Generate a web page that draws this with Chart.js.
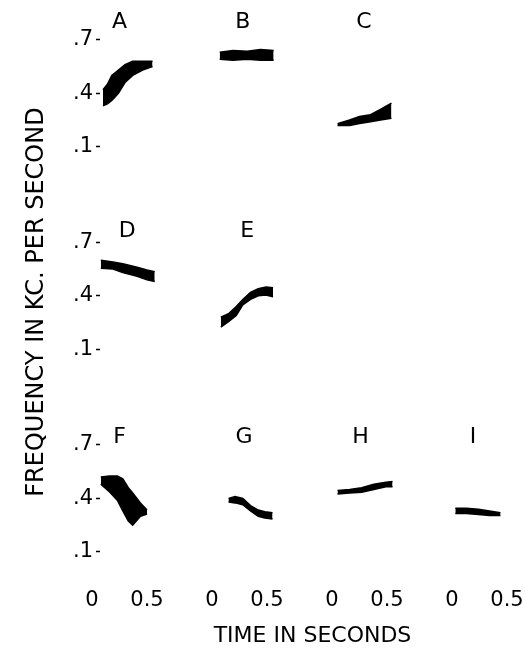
<!DOCTYPE html>
<html>
<head>
<meta charset="utf-8">
<script src="https://cdn.jsdelivr.net/npm/chart.js@4.4.0/dist/chart.umd.min.js"></script>
<style>
  html, body { margin: 0; padding: 0; background: #fff; }
  #wrap { width: 525px; height: 669px; position: relative; }
</style>
</head>
<body>
<div id="wrap"><canvas id="chart"></canvas></div>
<script>
// Panels: letter, row (0 = top) and column (0 = left) of each sound
const panelLetters = ['A', 'B', 'C', 'D', 'E', 'F', 'G', 'H', 'I'];
const panelRow = [0, 0, 0, 1, 1, 2, 2, 2, 2];
const panelCol = [0, 1, 2, 0, 1, 0, 1, 2, 3];
// where each letter sits, in seconds / kc of its own panel
const letterTime = [0.25, 0.28, 0.29, 0.32, 0.32, 0.25, 0.29, 0.26, 0.19];
const letterFreq = [0.80, 0.80, 0.80, 0.76, 0.76, 0.745, 0.745, 0.745, 0.745];

// Tick labels
const xTickValues = [0, 0.5];
const xTickLabels = ['0', '0.5'];
const yTickValues = [0.1, 0.4, 0.7];
const yTickLabels = ['.1', '.4', '.7'];

// Each trace: time (s), upper and lower edge of the band (kc)
const timeA = [0.10, 0.14, 0.18, 0.24, 0.30, 0.37, 0.46, 0.55];
const highA = [0.42, 0.45, 0.50, 0.53, 0.56, 0.58, 0.58, 0.58];
const lowA  = [0.33, 0.34, 0.36, 0.40, 0.46, 0.50, 0.53, 0.55];

const timeB = [0.07, 0.19, 0.32, 0.44, 0.56];
const highB = [0.63, 0.64, 0.635, 0.645, 0.64];
const lowB  = [0.59, 0.585, 0.59, 0.585, 0.585];

const timeC = [0.05, 0.16, 0.25, 0.35, 0.44, 0.54];
const highC = [0.23, 0.25, 0.27, 0.28, 0.31, 0.345];
const lowC  = [0.22, 0.22, 0.23, 0.24, 0.25, 0.26];

const timeD = [0.08, 0.19, 0.28, 0.41, 0.50, 0.57];
const highD = [0.60, 0.59, 0.58, 0.56, 0.545, 0.535];
const lowD  = [0.555, 0.55, 0.53, 0.51, 0.49, 0.48];

const timeE = [0.08, 0.15, 0.22, 0.28, 0.35, 0.42, 0.49, 0.555];
const highE = [0.28, 0.30, 0.34, 0.38, 0.42, 0.44, 0.45, 0.445];
const lowE  = [0.225, 0.255, 0.29, 0.35, 0.38, 0.40, 0.405, 0.395];

const timeF = [0.08, 0.16, 0.23, 0.28, 0.33, 0.37, 0.44, 0.50];
const highF = [0.52, 0.526, 0.526, 0.51, 0.46, 0.43, 0.375, 0.335];
const lowF  = [0.48, 0.436, 0.39, 0.33, 0.274, 0.25, 0.30, 0.313];

const timeG = [0.15, 0.21, 0.28, 0.35, 0.42, 0.48, 0.55];
const highG = [0.40, 0.41, 0.40, 0.36, 0.335, 0.325, 0.32];
const lowG  = [0.38, 0.375, 0.365, 0.33, 0.30, 0.29, 0.285];

const timeH = [0.05, 0.16, 0.27, 0.38, 0.49, 0.55];
const highH = [0.445, 0.45, 0.46, 0.48, 0.49, 0.495];
const lowH  = [0.425, 0.43, 0.435, 0.45, 0.465, 0.465];

const timeI = [0.03, 0.13, 0.24, 0.34, 0.44];
const highI = [0.345, 0.345, 0.34, 0.33, 0.32];
const lowI  = [0.315, 0.315, 0.31, 0.305, 0.305];

const panelTimes = [timeA, timeB, timeC, timeD, timeE, timeF, timeG, timeH, timeI];
const panelHigh = [highA, highB, highC, highD, highE, highF, highG, highH, highI];
const panelLow = [lowA, lowB, lowC, lowD, lowE, lowF, lowG, lowH, lowI];

// Panels share one x and one y scale, shifted by these steps
const COL_STEP = 1.0909;
const ROW_STEP = 1.135;
const X_MIN = 0.0727, X_MAX = 3.936;
const Y_MIN = -0.029, Y_MAX = 3.030;

const FONT = 'DejaVu Sans';
const INK = '#000';

const colShift = i => panelCol[i] * COL_STEP;
const rowShift = i => (2 - panelRow[i]) * ROW_STEP;

const datasets = [];
panelLetters.forEach((letter, i) => {
  const low = panelTimes[i].map((t, j) => ({ x: t + colShift(i), y: panelLow[i][j] + rowShift(i) }));
  const high = panelTimes[i].map((t, j) => ({ x: t + colShift(i), y: panelHigh[i][j] + rowShift(i) }));
  datasets.push({ label: letter + ' low', data: low, borderColor: INK, borderWidth: 1.5, pointRadius: 0, fill: false });
  datasets.push({ label: letter, data: high, borderColor: INK, backgroundColor: INK, borderWidth: 1.5, pointRadius: 0, fill: '-1' });
});

// Draws the panel letters at their spot on the scales
const letterPlugin = {
  id: 'panelLetters',
  afterDatasetsDraw(chart) {
    const { ctx, scales: { x, y } } = chart;
    ctx.save();
    ctx.font = '22px "' + FONT + '"';
    ctx.fillStyle = INK;
    ctx.textAlign = 'center';
    ctx.textBaseline = 'middle';
    panelLetters.forEach((letter, i) => {
      ctx.fillText(letter,
        x.getPixelForValue(letterTime[i] + colShift(i)),
        y.getPixelForValue(letterFreq[i] + rowShift(i)));
    });
    ctx.restore();
  }
};

const chart = new Chart(document.getElementById('chart'), {
  type: 'line',
  data: { datasets: datasets },
  plugins: [letterPlugin],
  options: {
    responsive: true,
    maintainAspectRatio: false,
    animation: false,
    layout: { padding: { top: 29, left: 0, right: 0, bottom: 0 } },
    plugins: { legend: { display: false }, tooltip: { enabled: false } },
    scales: {
      x: {
        type: 'linear',
        min: X_MIN,
        max: X_MAX,
        afterBuildTicks: scale => {
          const ticks = [];
          for (let c = 0; c < 4; c++) xTickValues.forEach(v => ticks.push({ value: v + c * COL_STEP }));
          scale.ticks = ticks;
        },
        afterFit: scale => { scale.height = 94; },
        grid: { display: false, drawTicks: false },
        border: { display: false },
        ticks: {
          autoSkip: false,
          maxRotation: 0,
          padding: 0,
          color: INK,
          font: { family: FONT, size: 21, lineHeight: 2.4 },
          callback: (v, i) => xTickLabels[i % 2]
        },
        title: {
          display: true,
          text: 'TIME IN SECONDS',
          color: INK,
          font: { family: FONT, size: 22 },
          padding: { top: 0, bottom: 20 }
        }
      },
      y: {
        type: 'linear',
        min: Y_MIN,
        max: Y_MAX,
        afterBuildTicks: scale => {
          const ticks = [];
          for (let r = 0; r < 3; r++) yTickValues.forEach(v => ticks.push({ value: v + r * ROW_STEP }));
          scale.ticks = ticks;
        },
        afterFit: scale => { scale.width = 100; },
        grid: {
          drawOnChartArea: false,
          drawTicks: true,
          tickLength: 4,
          tickColor: INK,
          tickWidth: 1.5
        },
        border: { display: false },
        ticks: {
          autoSkip: false,
          padding: 3,
          color: INK,
          font: { family: FONT, size: 21 },
          callback: (v, i) => yTickLabels[i % 3]
        },
        title: {
          display: true,
          text: 'FREQUENCY IN KC. PER SECOND',
          color: INK,
          font: { family: FONT, size: 24 },
          padding: { top: 22, bottom: 0 }
        }
      }
    }
  }
});
</script>
</body>
</html>
